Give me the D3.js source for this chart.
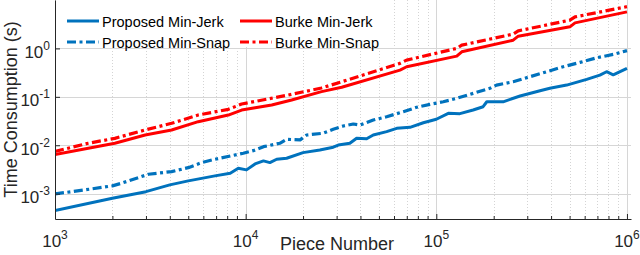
<!DOCTYPE html>
<html>
<head>
<meta charset="utf-8">
<script src="https://cdn.jsdelivr.net/npm/d3@7"></script>
<style>
  body { margin: 0; background: #fff; }
  svg { display: block; font-family: "Liberation Sans", Arial, Helvetica, sans-serif; }
</style>
</head>
<body>
<div id="chart"></div>
<script>
// piece number / time consumption (s)
const propJerkN = [1000, 2000, 3000, 4000, 5000, 6900, 8300, 9150, 10100, 11200,
    12400, 13400, 14550, 16400, 20000, 24500, 28800, 30600, 35200, 38200,
    43100, 46700, 54900, 62000, 72800, 85500, 100000, 115600, 133000, 156000,
    176000, 184000, 224000, 275000, 350000, 394000, 483000, 615000, 721000, 782000,
    847000, 1000000];
const propJerkT = [4.49e-4, 8.07e-4, 1.10e-3, 1.52e-3, 1.84e-3, 2.33e-3, 2.65e-3, 3.36e-3, 3.10e-3, 4.11e-3,
    4.75e-3, 4.38e-3, 5.14e-3, 5.40e-3, 7.04e-3, 8.0e-3, 9.1e-3, 1.01e-2, 1.10e-2, 1.39e-2,
    1.36e-2, 1.63e-2, 1.91e-2, 2.24e-2, 2.35e-2, 2.92e-2, 3.44e-2, 4.57e-2, 4.5e-2, 5.34e-2,
    6.25e-2, 7.92e-2, 7.9e-2, 0.104, 0.134, 0.150, 0.175, 0.230, 0.281, 0.330,
    0.285, 0.387];

const propSnapN = [1000, 1437, 2000, 2240, 3090, 4090, 5000, 5880, 6900, 7330,
    9720, 10960, 12400, 15100, 16400, 19300, 20900, 25500, 28800, 32500,
    36700, 39800, 46700, 54900, 67100, 78900, 92600, 108800, 128000, 156000,
    191000, 207000, 253000, 310000, 379000, 463000, 567000, 693000, 847000, 1000000];
const propSnapT = [9.9e-4, 1.20e-3, 1.45e-3, 1.65e-3, 2.52e-3, 2.86e-3, 3.45e-3, 4.38e-3, 5.14e-3, 5.40e-3,
    6.84e-3, 7.74e-3, 9.35e-3, 1.10e-2, 1.33e-2, 1.29e-2, 1.63e-2, 1.77e-2, 2.14e-2, 2.50e-2,
    2.75e-2, 2.62e-2, 3.32e-2, 3.89e-2, 4.93e-2, 6.08e-2, 7.0e-2, 7.92e-2, 9.31e-2, 0.118,
    0.150, 0.175, 0.205, 0.260, 0.330, 0.418, 0.514, 0.640, 0.752, 0.90];

const burkeJerkN = [1000, 1495, 2060, 2970, 4090, 5640, 8110, 9530, 13700, 17430,
    25000, 31900, 64500, 69900, 128000, 136000, 253000, 269000, 502000, 534000, 1000000];
const burkeJerkT = [6.46e-3, 8.67e-3, 1.10e-2, 1.63e-2, 2.07e-2, 3.07e-2, 4.21e-2, 5.34e-2, 6.78e-2, 8.59e-2,
    0.128, 0.158, 0.357, 0.418, 0.694, 0.851, 1.48, 1.79, 2.79, 3.37, 5.68];

const burkeSnapN = [1000, 1495, 2060, 2970, 4090, 5640, 8110, 9530, 16730, 25000,
    31900, 64500, 69900, 128000, 136000, 253000, 269000, 502000, 534000, 1000000];
const burkeSnapT = [7.45e-3, 1.10e-2, 1.39e-2, 2.07e-2, 2.84e-2, 4.21e-2, 5.52e-2, 7.11e-2, 0.109, 0.152,
    0.205, 0.491, 0.574, 1.0, 1.17, 1.97, 2.31, 3.83, 4.48, 7.28];

const seriesNames = ['Proposed Min-Jerk', 'Proposed Min-Snap', 'Burke Min-Jerk', 'Burke Min-Snap'];
const xTickValues = [1e3, 1e4, 1e5, 1e6];
const xTickExp = ['3', '4', '5', '6'];
const yTickValues = [1e-3, 1e-2, 1e-1, 1e0];
const yTickExp = ['-3', '-2', '-1', '0'];

function drawChart() {
    const width = 640;
    const height = 255;
    const x0 = 55, x1 = 631, yBottom = 219, yTop = 0;
    const blue = '#0072BD';
    const red = '#FF0000';
    const dashDot = '9,3.5,3,3.5';

    const series = [
        {name: seriesNames[0], n: propJerkN, t: propJerkT, color: blue, dash: null},
        {name: seriesNames[1], n: propSnapN, t: propSnapT, color: blue, dash: dashDot},
        {name: seriesNames[2], n: burkeJerkN, t: burkeJerkT, color: red, dash: null},
        {name: seriesNames[3], n: burkeSnapN, t: burkeSnapT, color: red, dash: dashDot}
    ];

    const svg = d3.select('#chart').append('svg')
        .attr('width', width)
        .attr('height', height);

    const xScale = d3.scaleLog().domain([1e3, 1.05e6]).range([x0, x1]);
    const yScale = d3.scaleLog().domain([3e-4, 10]).range([yBottom, yTop]);

    const isMajor = v => Math.abs(Math.log10(v) - Math.round(Math.log10(v))) < 1e-9;
    const xMinor = xScale.ticks().filter(v => !isMajor(v));

    // grid
    const grid = svg.append('g').attr('class', 'grid');
    grid.selectAll('line.xminor')
        .data(xMinor)
        .enter().append('line')
        .attr('class', 'xminor')
        .attr('x1', d => Math.round(xScale(d)) + 0.5)
        .attr('x2', d => Math.round(xScale(d)) + 0.5)
        .attr('y1', yTop)
        .attr('y2', yBottom)
        .attr('stroke', '#d4d4d4')
        .attr('stroke-width', 1)
        .attr('stroke-dasharray', '1,2');
    grid.selectAll('line.xmajor')
        .data(xTickValues)
        .enter().append('line')
        .attr('class', 'xmajor')
        .attr('x1', d => Math.round(xScale(d)) + 0.5)
        .attr('x2', d => Math.round(xScale(d)) + 0.5)
        .attr('y1', yTop)
        .attr('y2', yBottom)
        .attr('stroke', '#d6d6d6')
        .attr('stroke-width', 1);
    grid.selectAll('line.ymajor')
        .data(yTickValues)
        .enter().append('line')
        .attr('class', 'ymajor')
        .attr('x1', x0)
        .attr('x2', x1)
        .attr('y1', d => Math.round(yScale(d)) + 0.5)
        .attr('y2', d => Math.round(yScale(d)) + 0.5)
        .attr('stroke', '#d6d6d6')
        .attr('stroke-width', 1);

    // data
    svg.append('clipPath').attr('id', 'plotclip')
        .append('rect')
        .attr('x', x0).attr('y', -5)
        .attr('width', x1 - x0 + 5).attr('height', yBottom + 5);

    const line = d3.line()
        .x(d => xScale(d[0]))
        .y(d => yScale(d[1]));

    svg.append('g')
        .attr('clip-path', 'url(#plotclip)')
        .selectAll('path')
        .data(series)
        .enter().append('path')
        .attr('d', s => line(s.n.map((v, i) => [v, s.t[i]])))
        .attr('fill', 'none')
        .attr('stroke', s => s.color)
        .attr('stroke-width', s => s.dash ? 3.2 : 3)
        .attr('stroke-dasharray', s => s.dash)
        .attr('stroke-linejoin', 'round');

    // legend
    const legend = svg.append('g').attr('class', 'legend');
    legend.append('rect')
        .attr('x', x0 + 1).attr('y', 0)
        .attr('width', 333).attr('height', 47)
        .attr('fill', '#fff');
    const legendPos = [[67, 21], [67, 42], [240, 21], [240, 42]];
    series.forEach((s, i) => {
        const [lx, ly] = legendPos[i];
        legend.append('line')
            .attr('x1', lx).attr('x2', lx + 32)
            .attr('y1', ly).attr('y2', ly)
            .attr('stroke', s.color)
            .attr('stroke-width', s.dash ? 3.2 : 3)
            .attr('stroke-dasharray', s.dash);
        legend.append('text')
            .attr('x', lx + 35)
            .attr('y', ly + 5.5)
            .attr('font-size', 14.5)
            .attr('fill', '#000')
            .text(s.name);
    });

    // axes
    const axisColor = '#262626';
    svg.append('g')
        .attr('transform', `translate(0,${yBottom})`)
        .call(d3.axisBottom(xScale).tickValues(xTickValues).tickSizeInner(-5).tickSizeOuter(0).tickFormat(''));
    svg.append('g')
        .attr('transform', `translate(0,${yBottom})`)
        .call(d3.axisBottom(xScale).tickValues(xMinor).tickSizeInner(-3).tickSizeOuter(0).tickFormat(''))
        .call(g => g.select('.domain').remove());
    svg.append('g')
        .attr('transform', `translate(${x0},0)`)
        .call(d3.axisLeft(yScale).tickValues(yTickValues).tickSizeInner(-5).tickSizeOuter(0).tickFormat(''));
    svg.selectAll('.domain, .tick line').attr('stroke', axisColor).attr('stroke-width', 1);

    // tick labels
    xTickValues.forEach((v, i) => {
        const t = svg.append('text')
            .attr('x', xScale(v))
            .attr('y', 247)
            .attr('text-anchor', 'middle')
            .attr('font-size', 17)
            .attr('fill', '#262626');
        t.append('tspan').text('10');
        t.append('tspan').attr('dy', -8).attr('font-size', 12).text(xTickExp[i]);
    });
    yTickValues.forEach((v, i) => {
        const t = svg.append('text')
            .attr('x', 50)
            .attr('y', yScale(v) + 9.5)
            .attr('text-anchor', 'end')
            .attr('font-size', 17)
            .attr('fill', '#262626');
        t.append('tspan').text('10');
        t.append('tspan').attr('dy', -8).attr('font-size', 12).text(yTickExp[i]);
    });

    // axis titles
    svg.append('text')
        .attr('x', (x0 + x1) / 2 - 6)
        .attr('y', 250)
        .attr('text-anchor', 'middle')
        .attr('font-size', 18)
        .attr('fill', '#262626')
        .text('Piece Number');
    svg.append('text')
        .attr('transform', `translate(17,${(yTop + yBottom) / 2}) rotate(-90)`)
        .attr('text-anchor', 'middle')
        .attr('font-size', 18)
        .attr('fill', '#262626')
        .text('Time Consumption (s)');
}

window.addEventListener('load', () => drawChart());
</script>
</body>
</html>
